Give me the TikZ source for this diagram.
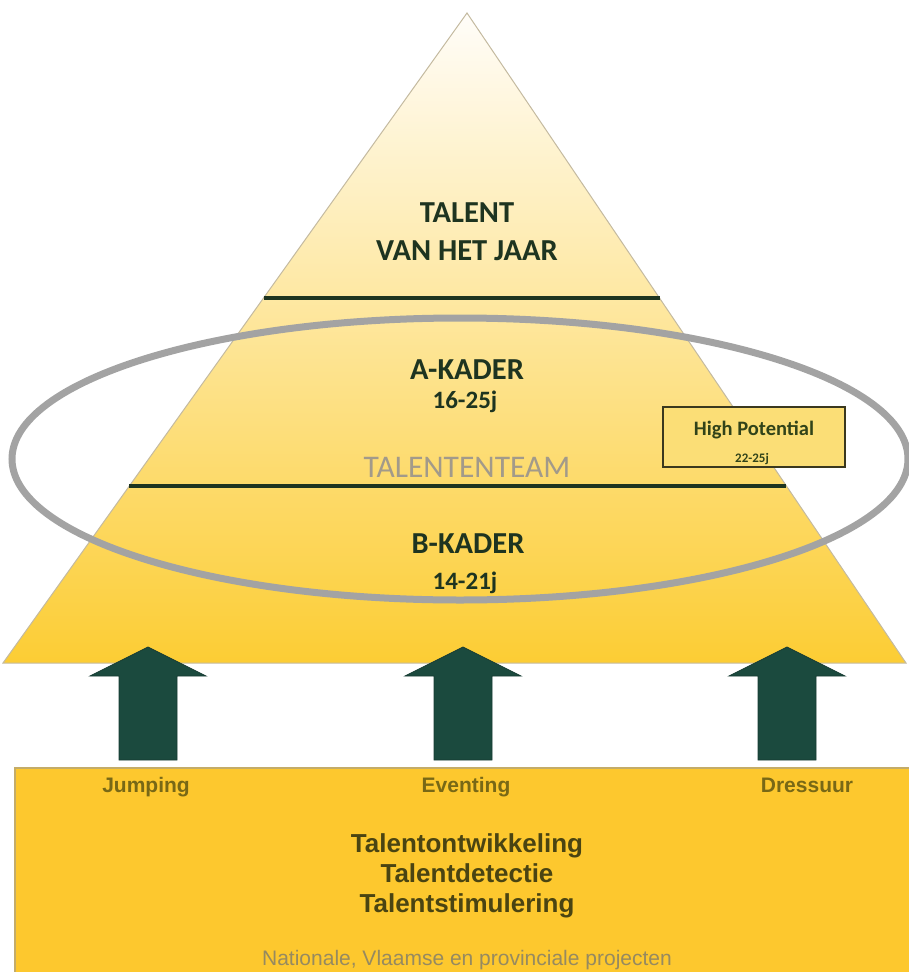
\documentclass[tikz,border=0pt]{standalone}
\usepackage{fontspec}
\setmainfont{Liberation Sans}
\newfontfamily\calfont{Carlito}
\usetikzlibrary{calc}
\definecolor{gtop}{RGB}{255,253,249}
\definecolor{gmid}{RGB}{253,236,178}
\definecolor{gbot}{RGB}{252,205,52}
\definecolor{tedge}{RGB}{196,186,160}
\definecolor{lvl}{RGB}{30,52,32}
\definecolor{ringc}{RGB}{163,163,163}
\definecolor{arrowc}{RGB}{27,74,62}
\definecolor{basec}{RGB}{253,200,46}
\definecolor{basee}{RGB}{196,172,104}
\definecolor{sporttxt}{RGB}{120,104,22}
\definecolor{maintxt}{RGB}{74,68,18}
\definecolor{subtxt}{RGB}{150,138,96}
\definecolor{teamtxt}{RGB}{162,154,138}
\definecolor{hpfill}{RGB}{251,222,118}
\definecolor{hpedge}{RGB}{58,56,30}
\begin{document}
\begin{tikzpicture}[x=1pt,y=-1pt,
  tier/.style={anchor=base,inner sep=0pt,text=lvl,font=\calfont\bfseries\fontsize{30.5}{32}\selectfont},
  age/.style={anchor=base,inner sep=0pt,text=lvl,font=\calfont\bfseries\fontsize{25}{27}\selectfont},
  level/.style={draw=lvl,line width=4pt},
  ring/.style={draw=ringc,line width=7pt},
  blockarrow/.style={fill=arrowc,draw=arrowc!80!black,line width=0.8pt},
  sport/.style={anchor=base,inner sep=0pt,text=sporttxt,font=\bfseries\fontsize{21}{23}\selectfont},
  mainline/.style={anchor=base,inner sep=0pt,text=maintxt,font=\bfseries\fontsize{26}{28}\selectfont},
]
\useasboundingbox (0,0) rectangle (909,972);
% pyramid
\coordinate (apex) at (467,13);
\coordinate (bl) at (3,663);
\coordinate (br) at (906,663);
\shade[top color=gtop,middle color=gmid,bottom color=gbot] (apex)--(bl)--(br)--cycle;
\draw[draw=tedge,line width=1pt] (apex)--(bl)--(br)--cycle;
% levels
\coordinate (l1a) at ($(apex)!0.4385!(bl)$);
\coordinate (l1b) at ($(apex)!0.4385!(br)$);
\coordinate (l2a) at ($(apex)!0.7277!(bl)$);
\coordinate (l2b) at ($(apex)!0.7277!(br)$);
\draw[level] (l1a)--(l1b);
\draw[level] (l2a)--(l2b);
% texts
\node[tier] (t1) at (467,222) {TALENT};
\node[tier] (t2) at (467,260) {VAN HET JAAR};
\node[tier] (ak) at (467,379) {A-KADER};
\node[age] (aka) at (465,408) {16-25j};
\node[anchor=base,inner sep=0pt,text=teamtxt,font=\calfont\fontsize{31.5}{33}\selectfont] (team) at (467,477) {TALENTENTEAM};
\node[tier] (bk) at (468,553) {B-KADER};
\node[age] (bka) at (465,589) {14-21j};
% high potential box
\node[draw=hpedge,fill=hpfill,line width=2pt,minimum width=182pt,minimum height=60pt,inner sep=0pt] (hp) at (754,437) {};
\node[anchor=base,inner sep=0pt,text=lvl!80!olive,font=\calfont\bfseries\fontsize{20.5}{22}\selectfont] (hpt) at (754,435) {High Potential};
\node[anchor=base,inner sep=0pt,text=lvl!80!olive,font=\calfont\bfseries\fontsize{13}{14}\selectfont] (hpa) at (752,462) {22-25j};
% ellipse
\draw[ring] (460,459) ellipse [x radius=448,y radius=141];
% base block
\draw[fill=basec,draw=basee,line width=1.2pt] (15,768) rectangle (920,985);
% arrows
\foreach \cx/\nm in {148/ja,463/ea,787/da}{
  \draw[blockarrow] (\cx-29,760)--(\cx-29,676)--(\cx-58,676)--(\cx,647)--(\cx+58,676)--(\cx+29,676)--(\cx+29,760)--cycle;
}
\node[sport] (jump) at (146,792) {Jumping};
\node[sport] (event) at (466,792) {Eventing};
\node[sport] (dress) at (807,792) {Dressuur};
\node[mainline] (m1) at (467,852) {Talentontwikkeling};
\node[mainline] (m2) at (467,882) {Talentdetectie};
\node[mainline] (m3) at (467,912) {Talentstimulering};
\node[anchor=base,inner sep=0pt,text=subtxt,font=\fontsize{21}{23}\selectfont] (proj) at (467,965) {Nationale, Vlaamse en provinciale projecten};
\end{tikzpicture}
\end{document}
